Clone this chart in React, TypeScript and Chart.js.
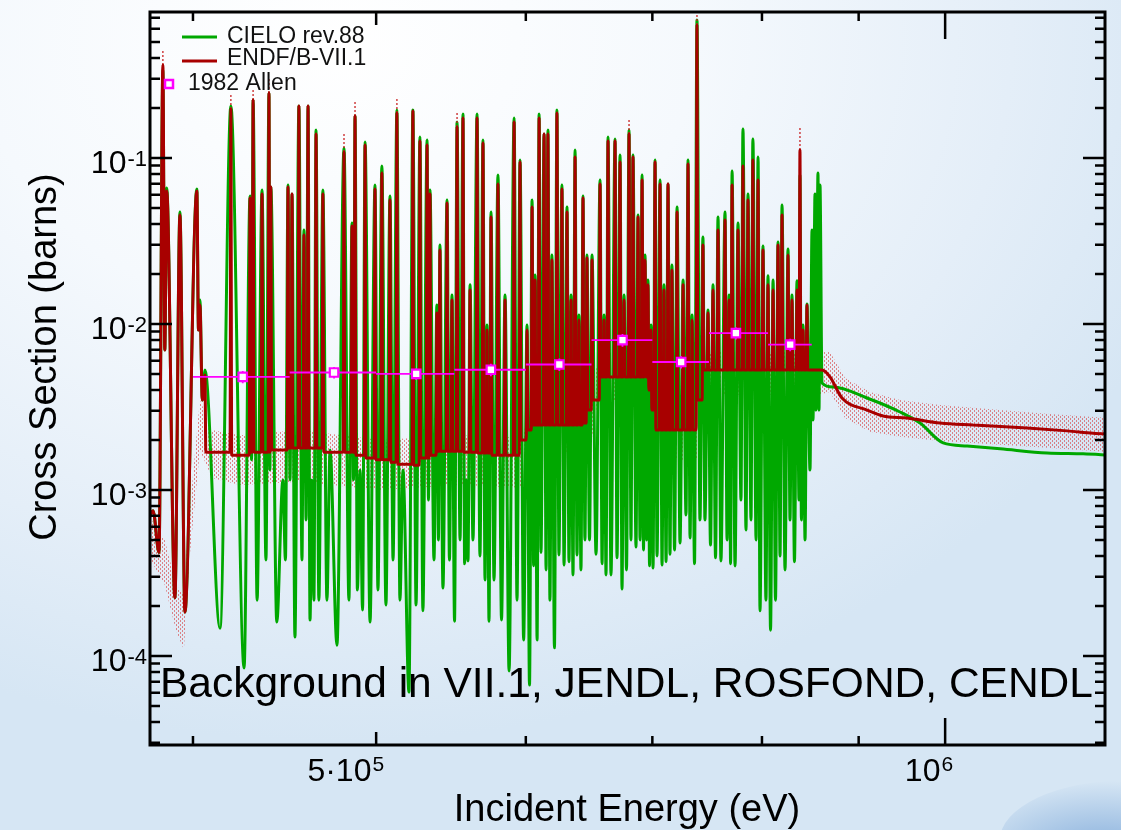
import React, { useEffect, useRef } from 'react';
import { Chart, registerables } from 'chart.js';

Chart.register(...registerables);

// ---------------- data (energies in keV, cross sections in barns) ----------------
// resonance energies
const resE = [
  381.0,
  385.6, 387.4, 393.7, 401.9, 403.4, 405.9, 418.9, 428.8, 430.4, 435.1,
  438.8, 439.8, 446.3, 449.1, 451.3, 455.1, 457.9, 460.2, 462.4, 464.7,
  468.6, 472.7, 480.8, 485.5, 487.3, 490.3, 493.3, 499.3, 503.5, 508.5,
  512.8, 516.6, 522.9, 527.4, 532.0, 533.9, 538.4, 540.4, 545.1, 548.4,
  551.8, 555.8, 557.9, 560.6, 565.4, 569.5, 572.3, 575.1, 580.0, 585.0,
  591.5, 595.8, 600.9, 604.6, 606.8, 609.8, 613.5, 616.4, 619.4, 623.2,
  627.0, 630.9, 634.0, 637.1, 640.1, 643.3, 646.4, 650.4, 656.8, 660.0,
  663.2, 668.9, 673.0, 676.3, 680.4, 683.7, 687.9, 691.3, 693.8, 696.3,
  698.9, 702.3, 706.6, 710.0, 713.5, 716.9, 721.4, 726.7, 731.1, 734.7,
  739.1, 744.5, 749.1, 753.7, 758.3, 764.8, 768.6, 771.4, 777.0, 781.7,
  786.5, 791.2, 796.2, 801.0, 805.9, 810.9, 815.8, 819.8, 825.8, 829.8,
  834.9, 837.9, 841.0, 845.1, 850.3, 853.4, 856.5, 858.6,
];

// ENDF/B-VII.1 peak values (null = no visible ENDF resonance)
const endfPeak = [
  7.5e-4,
  0.363, 0.0633, 0.0453, 0.0633, 0.013, 0.00493, 0.1973, 0.0574, 0.2235, 0.0607,
  0.246, 0.0669, null, 0.0669, 0.0607, 0.2057, 0.0344, 0.2057, null, 0.1395,
  0.0607, null, 0.1087, 0.0389, 0.179, null, 0.1198, 0.0651, 0.0812, 0.0558,
  0.1866, null, 0.1919, 0.1266, 0.1198, 0.0607, 0.01165, 0.0279, 0.0536, 0.01395,
  0.1537, 0.1742, null, 0.016, 0.1742, 0.1231, 0.0092, 0.0441, 0.0697, 0.01395,
  0.1647, 0.0946, 0.0092, 0.0507, 0.0184, 0.1742, 0.1395, 0.1395, 0.0243, 0.1866,
  0.0651, 0.0473, 0.01395, 0.1014, 0.01057, 0.0574, 0.025, 0.0243, 0.0697, 0.01057,
  0.1266, 0.1266, 0.0946, 0.01395, 0.1395, 0.1014, 0.0441, 0.0737, 0.0243, 0.0172,
  0.0092, 0.0946, 0.0697, 0.016, 0.0697, 0.0211, 0.0473, 0.0172, 0.092, 0.01057,
  0.633, 0.0299, 0.01165, 0.016, 0.0368, 0.0423, 0.01395, 0.0688, 0.0368, 0.0895,
  0.0558, 0.0973, 0.0737, 0.0279, 0.0172, 0.016, 0.0299, 0.0453, 0.026, 0.01395,
  0.016, 0.1117, 0.0092, 0.013, null, null, null, null,
];

// CIELO rev.88 peak values
const cieloPeak = [
  7.5e-4,
  0.339, 0.066, 0.0473, 0.0651, 0.01395, 0.00528, 0.2057, 0.059, 0.2235, 0.0642,
  0.246, 0.0669, 0.00115, 0.0688, 0.0607, 0.2057, 0.0368, 0.2057, 0.00115, 0.1475,
  0.0642, 0.00174, 0.1149, 0.0406, 0.179, 0.00132, 0.1249, 0.0688, 0.0895, 0.059,
  0.1946, 0.00132, 0.1946, 0.1338, 0.1284, 0.0642, 0.013, 0.0299, 0.0558, 0.01496,
  0.1647, 0.1841, 0.00115, 0.0172, 0.1841, 0.1284, 0.00986, 0.0473, 0.079, 0.01496,
  0.1742, 0.0973, 0.00986, 0.0558, 0.0197, 0.1841, 0.1395, 0.1475, 0.026, 0.1946,
  0.0688, 0.0507, 0.01496, 0.1117, 0.01133, 0.059, 0.026, 0.026, 0.0737, 0.01133,
  0.1338, 0.1302, 0.1042, 0.01496, 0.1475, 0.1042, 0.0453, 0.079, 0.026, 0.0184,
  0.00986, 0.0973, 0.0737, 0.0172, 0.0697, 0.02266, 0.0507, 0.0184, 0.0973, 0.01133,
  0.678, 0.0334, 0.01214, 0.0172, 0.0441, 0.0473, 0.01496, 0.0835, 0.0406, 0.1495,
  0.0607, 0.1302, 0.1014, 0.0295, 0.0195, 0.0184, 0.0312, 0.0521, 0.0283, 0.01496,
  0.0182, 0.079, 0.00986, 0.0132, 0.0368, 0.0607, 0.0812, 0.0688,
];

// valleys between resonances (one before the first, one after the last)
const gapE = [
  377.3, 383.8,
  386.5, 391.3, 396.1, 402.7, 404.6, 413.4, 425.7, 429.6, 432.5,
  437.2, 439.3, 443.0, 447.7, 450.2, 452.9, 456.8, 459.1, 461.3, 463.5,
  466.3, 470.9, 476.7, 483.7, 486.4, 488.7, 491.8, 496.3, 501.1, 506.0,
  510.4, 514.7, 520.4, 524.9, 529.3, 532.9, 536.5, 539.4, 542.4, 546.7,
  550.1, 553.8, 556.9, 559.2, 562.6, 567.4, 570.9, 573.7, 577.2, 582.5,
  587.9, 593.6, 598.4, 602.7, 605.7, 608.3, 611.2, 615.0, 617.9, 621.3,
  624.7, 628.6, 632.4, 635.5, 638.6, 641.7, 644.8, 648.4, 653.6, 658.4,
  661.6, 665.6, 670.5, 674.6, 678.3, 682.0, 686.2, 689.6, 692.5, 695.1,
  697.6, 700.6, 704.0, 708.3, 711.8, 715.2, 719.2, 724.0, 729.3, 732.9,
  736.9, 741.8, 746.3, 751.4, 756.0, 761.0, 766.7, 770.0, 774.2, 779.8,
  784.6, 789.4, 794.3, 798.1, 803.9, 808.4, 813.3, 817.8, 822.8, 827.8,
  832.3, 836.9, 839.4, 843.1, 848.2, 851.3, 854.4, 857.6, 860.7,
];

const cieloValley = [
  5.5e-4, 4.2e-4,
  6.97e-3, 2.24e-4, 1.84e-4, 9.2e-3, 3.48e-3, 1.47e-4, 8.47e-5, 1.52e-3, 2.17e-4,
  3.79e-4, 1.32e-3, 1.6e-4, 3.79e-4, 1.15e-3, 1.3e-4, 3.79e-4, 6.6e-4, 1.65e-4, 2.17e-4,
  2.17e-4, 2.17e-4, 1.16e-4, 2.17e-4, 1.15e-3, 2.5e-4, 1.89e-4, 1.6e-4, 2.5e-4, 2.03e-4,
  3.79e-4, 2.17e-4, 6.07e-5, 2.03e-4, 1.87e-4, 8.7e-4, 3.79e-4, 5.0e-4, 2.57e-4, 3.79e-4,
  1.62e-4, 5.0e-4, 3.6e-4, 3.74e-4, 5.0e-4, 4.0e-4, 2.87e-4, 1.62e-4, 2.87e-4, 1.65e-4,
  8.12e-5, 2.17e-4, 1.25e-4, 6.69e-5, 3.5e-4, 1.25e-4, 4.2e-4, 3.3e-4, 2.17e-4, 1.12e-4,
  4.06e-4, 3.53e-4, 3.7e-4, 3.08e-4, 4.06e-4, 3.3e-4, 5.0e-4, 5.0e-4, 4.1e-4, 3.6e-4,
  3.08e-4, 3.08e-4, 3.9e-4, 2.53e-4, 3.3e-4, 5.0e-4, 4.53e-4, 5.0e-4, 4.35e-4, 5.0e-4,
  3.5e-4, 3.39e-4, 4.0e-4, 3.53e-4, 3.7e-4, 4.1e-4, 4.35e-4, 4.8e-4, 7.07e-4, 5.14e-4,
  3.6e-4, 6.6e-4, 6.6e-4, 4.66e-4, 3.9e-4, 3.74e-4, 5.0e-4, 3.6e-4, 3.49e-4, 8.7e-4,
  5.74e-4, 6.6e-4, 5.0e-4, 1.87e-4, 2.17e-4, 1.43e-4, 2.17e-4, 4.0e-4, 3.3e-4, 6.6e-4,
  3.7e-4, 8.7e-4, 6.6e-4, 5.0e-4, 1.32e-3, 2.64e-3, 3.03e-3, 3.03e-3, 4.41e-3,
];

// ENDF background between resonances; null = follows the CIELO curve there
const endfValley = [
  null, null,
  null, null, null, null, null, 1.69e-3, 1.62e-3, 1.69e-3, 1.69e-3,
  1.69e-3, 1.69e-3, 1.74e-3, 1.74e-3, 1.79e-3, 1.79e-3, 1.79e-3, 1.79e-3, 1.79e-3, 1.79e-3,
  1.79e-3, 1.69e-3, 1.69e-3, 1.69e-3, 1.69e-3, 1.62e-3, 1.62e-3, 1.56e-3, 1.52e-3, 1.52e-3,
  1.47e-3, 1.43e-3, 1.43e-3, 1.41e-3, 1.56e-3, 1.56e-3, 1.62e-3, 1.71e-3, 1.71e-3, 1.71e-3,
  1.71e-3, 1.71e-3, 1.69e-3, 1.69e-3, 1.69e-3, 1.67e-3, 1.67e-3, 1.67e-3, 1.62e-3, 1.62e-3,
  1.62e-3, 1.62e-3, 2.0e-3, 2.3e-3, 2.46e-3, 2.46e-3, 2.46e-3, 2.46e-3, 2.46e-3, 2.46e-3,
  2.46e-3, 2.46e-3, 2.46e-3, 2.46e-3, 2.46e-3, 2.46e-3, 2.53e-3, 3.03e-3, 3.48e-3, 4.8e-3,
  4.8e-3, 4.8e-3, 4.8e-3, 4.8e-3, 4.8e-3, 4.8e-3, 4.8e-3, 4.8e-3, 4.8e-3, 4.8e-3,
  4.0e-3, 3.03e-3, 2.3e-3, 2.3e-3, 2.3e-3, 2.3e-3, 2.3e-3, 2.3e-3, 2.3e-3, 2.3e-3,
  2.3e-3, 3.48e-3, 5.28e-3, 5.28e-3, 5.28e-3, 5.28e-3, 5.28e-3, 5.28e-3, 5.28e-3, 5.28e-3,
  5.28e-3, 5.28e-3, 5.28e-3, 5.28e-3, 5.28e-3, 5.28e-3, 5.28e-3, 5.28e-3, 5.28e-3, 5.28e-3,
  5.28e-3, 5.28e-3, 5.28e-3, 5.28e-3, 5.28e-3, 5.28e-3, 5.28e-3, 5.28e-3, 5.28e-3,
];

// smooth continuum above the resolved range
const endfTailE = [869.1, 881.9, 909.2, 927.1, 954.6, 993.9, 1034.7, 1105.1, 1160.2, 1197.6, 1222.7];
const endfTail = [0.0048, 0.00358, 0.00303, 0.00279, 0.00271, 0.00253, 0.00246, 0.00236, 0.00227, 0.0022, 0.00217];
const cieloTailE = [872.3, 909.2, 946.5, 969.9, 997.6, 1027.2, 1069.3, 1132.3, 1183.1, 1222.7];
const cieloTail = [0.00417, 0.00358, 0.00295, 0.00253, 0.00192, 0.00184, 0.00177, 0.00167, 0.00165, 0.00162];

// ENDF/B-VII.1 uncertainty band
const bandE = [
  377.3, 386.5, 391.8, 395.6, 398.0, 403.4, 409.4, 423.6, 455.7, 502.3,
  553.8, 597.3, 603.1, 648.8, 654.8, 698.0, 702.3, 739.1, 744.5, 856.5,
  869.1, 885.2, 912.5, 946.5, 993.9, 1069.3, 1136.5, 1222.7,
];
const bandHi = [
  7.58e-4, 5.0e-4, 2.68e-4, 2.33e-4, 6.6e-4, 3.48e-3, 2.3e-3, 2.14e-3, 2.3e-3, 2.0e-3,
  2.14e-3, 2.06e-3, 3.03e-3, 3.25e-3, 5.9e-3, 5.9e-3, 2.83e-3, 2.83e-3, 6.78e-3, 6.78e-3,
  6.78e-3, 4.73e-3, 3.89e-3, 3.48e-3, 3.25e-3, 3.03e-3, 2.87e-3, 2.71e-3,
];
const bandLo = [
  4.35e-4, 2.68e-4, 1.43e-4, 1.09e-4, 3.53e-4, 1.74e-3, 1.18e-3, 1.07e-3, 1.12e-3, 1.0e-3,
  1.07e-3, 1.03e-3, 1.52e-3, 1.74e-3, 3.39e-3, 3.39e-3, 1.52e-3, 1.52e-3, 3.74e-3, 3.74e-3,
  3.89e-3, 2.71e-3, 2.24e-3, 2.09e-3, 1.97e-3, 1.87e-3, 1.79e-3, 1.69e-3,
];

// ENDF uncertainty above selected peaks (dotted)
const peakUncE = [385.6, 418.9, 430.4, 438.8, 480.8, 487.3, 512.8, 551.8, 680.4, 739.1, 837.9];
const peakUncLo = [0.363, 0.1973, 0.2235, 0.246, 0.1087, 0.179, 0.1866, 0.1537, 0.1395, 0.633, 0.1117];
const peakUncHi = [0.447, 0.2396, 0.264, 0.299, 0.1395, 0.2235, 0.2298, 0.1893, 0.1742, 0.727, 0.1516];

// 1982 Allen measurement
const allenE = [425, 475, 525, 575, 625, 675, 725, 775, 828];
const allenLo = [400, 450, 500, 550, 600, 650, 700, 750, 806];
const allenHi = [450, 500, 550, 600, 650, 700, 750, 806, 850];
const allenXS = [4.8e-3, 5.1e-3, 5.0e-3, 5.3e-3, 5.7e-3, 8.0e-3, 5.9e-3, 8.8e-3, 7.5e-3];
const allenErr = [0.4e-3, 0.4e-3, 0.4e-3, 0.45e-3, 0.5e-3, 0.7e-3, 0.5e-3, 0.75e-3, 0.65e-3];

// axis ticks / labels
const yMajorTicks = [1e-1, 1e-2, 1e-3, 1e-4];
const yMajorExp = ['-1', '-2', '-3', '-4'];
const xLabelTicks = [5e5, 1e6];
const xLabelBase = ['5\u00b710', '10'];
const xLabelExp = ['5', '6'];
const xMinorTicks = [4e5, 6e5, 7e5, 8e5, 9e5];

const X_MIN = 379.6e3;
const X_MAX = 1215e3;
const Y_MIN = 2.91e-5;
const Y_MAX = 0.757;

const RED = '#a80000';
const GREEN = '#00a800';
const MAGENTA = '#ff00ff';
const FONT = '"Liberation Sans", Arial, Helvetica, sans-serif';
const SPIKE = 0.001; // relative half-width used to draw each ENDF resonance spike

type Pt = { x: number; y: number | null };

function buildEndf(): Pt[] {
  const pts: Pt[] = [];
  const n = resE.length;
  for (let i = 0; i <= n; i++) {
    const v = endfValley[i];
    pts.push({ x: gapE[i] * 1e3, y: v == null ? cieloValley[i] : v });
    if (i < n && endfPeak[i] != null) {
      if (endfValley[i] != null) pts.push({ x: resE[i] * (1 - SPIKE) * 1e3, y: endfValley[i] });
      pts.push({ x: resE[i] * 1e3, y: endfPeak[i] });
      if (endfValley[i + 1] != null) pts.push({ x: resE[i] * (1 + SPIKE) * 1e3, y: endfValley[i + 1] });
    }
  }
  endfTailE.forEach((e, i) => pts.push({ x: e * 1e3, y: endfTail[i] }));
  return pts;
}

function buildCielo(): Pt[] {
  const pts: Pt[] = [];
  for (let i = 0; i <= resE.length; i++) {
    pts.push({ x: gapE[i] * 1e3, y: cieloValley[i] });
    if (i < resE.length) pts.push({ x: resE[i] * 1e3, y: cieloPeak[i] });
  }
  cieloTailE.forEach((e, i) => pts.push({ x: e * 1e3, y: cieloTail[i] }));
  return pts;
}

function buildAllenBars(): Pt[] {
  const pts: Pt[] = [];
  allenE.forEach((e, i) => {
    pts.push({ x: allenLo[i] * 1e3, y: allenXS[i] });
    pts.push({ x: allenHi[i] * 1e3, y: allenXS[i] });
    pts.push({ x: allenHi[i] * 1e3, y: null });
    pts.push({ x: e * 1e3, y: allenXS[i] - allenErr[i] });
    pts.push({ x: e * 1e3, y: allenXS[i] + allenErr[i] });
    pts.push({ x: e * 1e3, y: null });
  });
  return pts;
}

function buildPeakUnc(): Pt[] {
  const pts: Pt[] = [];
  peakUncE.forEach((e, i) => {
    pts.push({ x: e * 1e3, y: peakUncLo[i] });
    pts.push({ x: e * 1e3, y: peakUncHi[i] });
    pts.push({ x: e * 1e3, y: null });
  });
  return pts;
}

const decor = {
  id: 'decor',
  afterDraw(chart: any) {
    const { ctx, chartArea: a } = chart;
    const xs = chart.scales.x;
    const ys = chart.scales.y;
    ctx.save();

    // frame
    ctx.strokeStyle = '#000';
    ctx.lineWidth = 3;
    ctx.strokeRect(a.left, a.top, a.right - a.left, a.bottom - a.top);

    // y ticks (both sides, inward)
    ctx.lineWidth = 2.5;
    ctx.beginPath();
    for (let d = -5; d <= 0; d++) {
      for (let k = 1; k <= 9; k++) {
        const v = k * Math.pow(10, d);
        if (v < Y_MIN || v > Y_MAX) continue;
        const py = ys.getPixelForValue(v);
        const len = k === 1 ? 22 : 10;
        ctx.moveTo(a.left, py);
        ctx.lineTo(a.left + len, py);
        ctx.moveTo(a.right, py);
        ctx.lineTo(a.right - len, py);
      }
    }
    // x ticks (bottom and top, inward)
    const xt: [number, number][] = [];
    xMinorTicks.forEach((v) => xt.push([v, 9]));
    xt.push([5e5, 13]);
    xt.push([1e6, 27]);
    xt.forEach(([v, len]) => {
      const px = xs.getPixelForValue(v);
      ctx.moveTo(px, a.bottom);
      ctx.lineTo(px, a.bottom - len);
      ctx.moveTo(px, a.top);
      ctx.lineTo(px, a.top + len);
    });
    ctx.stroke();

    // y tick labels
    ctx.fillStyle = '#000';
    ctx.textBaseline = 'alphabetic';
    yMajorTicks.forEach((v, i) => {
      const py = ys.getPixelForValue(v);
      ctx.font = `22px ${FONT}`;
      const ew = ctx.measureText(yMajorExp[i]).width;
      const ex = a.left - 3 - ew;
      ctx.textAlign = 'left';
      ctx.fillText(yMajorExp[i], ex, py + 8);
      ctx.font = `32px ${FONT}`;
      ctx.textAlign = 'right';
      ctx.fillText('10', ex - 1, py + 15.5);
    });

    // x tick labels
    xLabelTicks.forEach((v, i) => {
      const px = xs.getPixelForValue(v);
      ctx.font = `21px ${FONT}`;
      const ew = ctx.measureText(xLabelExp[i]).width;
      const right = px + 8;
      ctx.textAlign = 'left';
      ctx.fillText(xLabelExp[i], right - ew, 771);
      ctx.font = `32px ${FONT}`;
      ctx.textAlign = 'right';
      ctx.fillText(xLabelBase[i], right - ew - 1, 781);
    });

    // axis titles
    ctx.font = `38px ${FONT}`;
    ctx.textAlign = 'center';
    ctx.fillText('Incident Energy (eV)', 627, 821);
    ctx.save();
    ctx.translate(56, 357);
    ctx.rotate(-Math.PI / 2);
    ctx.fillText('Cross Section (barns)', 0, 0);
    ctx.restore();

    // annotation
    ctx.font = `42.5px ${FONT}`;
    ctx.textAlign = 'left';
    ctx.fillText('Background in VII.1, JENDL, ROSFOND, CENDL', 160, 697);

    // legend
    ctx.lineWidth = 3;
    ctx.strokeStyle = GREEN;
    ctx.beginPath();
    ctx.moveTo(182, 37);
    ctx.lineTo(217, 37);
    ctx.stroke();
    ctx.strokeStyle = RED;
    ctx.beginPath();
    ctx.moveTo(182, 61);
    ctx.lineTo(217, 61);
    ctx.stroke();
    ctx.strokeStyle = MAGENTA;
    ctx.lineWidth = 2.5;
    ctx.fillStyle = '#ffffff';
    ctx.fillRect(165, 80, 8, 8);
    ctx.strokeRect(165, 80, 8, 8);
    ctx.font = `23px ${FONT}`;
    ctx.fillStyle = '#111';
    ctx.fillText('CIELO rev.88', 227, 43);
    ctx.fillText('ENDF/B-VII.1', 227, 65);
    ctx.fillText('1982 Allen', 188, 90);

    ctx.restore();
  },
};

export default function App() {
  const ref = useRef<HTMLCanvasElement>(null);

  useEffect(() => {
    const canvas = ref.current;
    if (!canvas) return;
    const pc = document.createElement('canvas');
    pc.width = 4;
    pc.height = 4;
    const pctx = pc.getContext('2d')!;
    pctx.fillStyle = 'rgba(215,60,60,0.6)';
    pctx.fillRect(0, 0, 1, 2);
    pctx.fillRect(2, 2, 1, 2);
    const pattern = canvas.getContext('2d')!.createPattern(pc, 'repeat')!;

    const line = (data: Pt[], color: string, width: number, order: number, extra: any = {}) => ({
      data,
      borderColor: color,
      borderWidth: width,
      pointRadius: 0,
      fill: false,
      tension: 0,
      order,
      ...extra,
    });

    const chart = new Chart(canvas, {
      type: 'line',
      data: {
        datasets: [
          {
            label: '1982 Allen',
            data: allenE.map((e, i) => ({ x: e * 1e3, y: allenXS[i] })),
            showLine: false,
            pointStyle: 'rect',
            pointRadius: 6,
            pointBorderWidth: 2.2,
            pointBorderColor: MAGENTA,
            pointBackgroundColor: '#ffffff',
            order: 0,
          },
          line(buildAllenBars(), MAGENTA, 1.8, 0.5, { label: 'Allen bars', spanGaps: false }),
          line(buildEndf(), RED, 3, 1, {
            label: 'ENDF/B-VII.1',
            borderJoinStyle: 'bevel',
            cubicInterpolationMode: 'monotone',
          }),
          line(buildPeakUnc(), 'rgba(200,30,30,0.85)', 1.5, 1.5, { label: 'peak unc', spanGaps: false, borderDash: [2, 2] }),
          line(buildCielo(), GREEN, 3, 3, { label: 'CIELO rev.88', cubicInterpolationMode: 'monotone' }),
          line(bandE.map((e, i) => ({ x: e * 1e3, y: bandHi[i] })), 'rgba(0,0,0,0)', 0, 4, {
            fill: '+1',
            backgroundColor: pattern,
          }),
          line(bandE.map((e, i) => ({ x: e * 1e3, y: bandLo[i] })), 'rgba(0,0,0,0)', 0, 5),
        ] as any,
      },
      options: {
        responsive: false,
        animation: false,
        devicePixelRatio: 1,
        events: [],
        layout: { padding: { left: 150, top: 12, right: 16, bottom: 85 } },
        scales: {
          x: { type: 'logarithmic', min: X_MIN, max: X_MAX, display: false },
          y: { type: 'logarithmic', min: Y_MIN, max: Y_MAX, display: false },
        },
        plugins: {
          legend: { display: false },
          tooltip: { enabled: false },
        },
      } as any,
      plugins: [decor],
    });
    return () => chart.destroy();
  }, []);

  return (
    <div
      style={{
        position: 'absolute',
        left: 0,
        top: 0,
        width: 1121,
        height: 830,
        overflow: 'hidden',
        background:
          'radial-gradient(ellipse 900px 700px at 30% 5%, #ffffff 0%, #f5f9fd 40%, #e4eef8 75%, #d6e6f4 100%)',
      }}
    >
      <div
        style={{
          position: 'absolute',
          left: 1000,
          top: 780,
          width: 260,
          height: 120,
          borderRadius: '50%',
          background: 'radial-gradient(ellipse at 40% 60%, rgba(70,130,200,0.55) 0%, rgba(120,170,220,0.0) 70%)',
        }}
      />
      <canvas ref={ref} width={1121} height={830} style={{ position: 'absolute', left: 0, top: 0, display: 'block' }} />
    </div>
  );
}
